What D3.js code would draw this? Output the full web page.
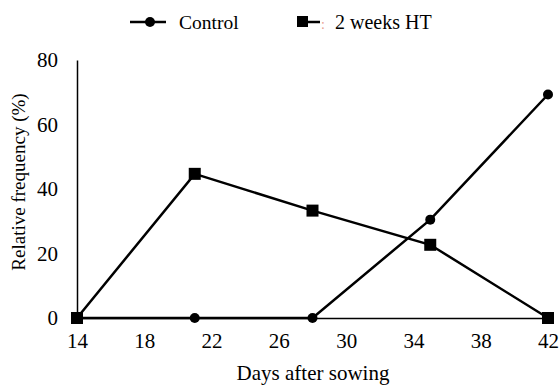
<!DOCTYPE html>
<html>
  <script src="https://d3js.org/d3.v7.js"></script>
  <body style="margin:0">
    <svg id="myPlot" width="560" height="385" font-family="Liberation Serif, DejaVu Serif, serif"></svg>
    <script>
      // Data
      const days = [14, 21, 28, 35, 42];
      const control = [0, 0, 0, 30.5, 69.3];
      const heat = [0, 44.7, 33.3, 22.7, 0];
      const xTicks = [14, 18, 22, 26, 30, 34, 38, 42];
      const yTicks = [0, 20, 40, 60, 80];

      const svg = d3.select("#myPlot");
      const font = "Liberation Serif, DejaVu Serif, serif";

      const x = d3.scaleLinear().domain([14, 42]).range([77, 548]);
      const y = d3.scaleLinear().domain([0, 80]).range([318, 60]);

      // Axes
      const xAxis = svg.append("g")
        .attr("transform", "translate(0," + y(0) + ")")
        .call(d3.axisBottom(x).tickValues(xTicks).tickSize(0).tickPadding(15));
      const yAxis = svg.append("g")
        .attr("transform", "translate(" + x(14) + ",0)")
        .call(d3.axisLeft(y).tickValues(yTicks).tickSize(0).tickPadding(19));
      [xAxis, yAxis].forEach(function (a) {
        a.attr("font-family", font).attr("font-size", 21);
        a.select(".domain").attr("stroke", "#000").attr("stroke-width", 1.5);
        a.selectAll("text").attr("fill", "#000");
      });

      // Titles
      svg.append("text")
        .attr("x", 313).attr("y", 380)
        .attr("text-anchor", "middle")
        .attr("font-family", font).attr("font-size", 21)
        .text("Days after sowing");
      svg.append("text")
        .attr("transform", "translate(25,182) rotate(-90)")
        .attr("text-anchor", "middle")
        .attr("font-family", font).attr("font-size", 19)
        .text("Relative frequency (%)");

      const line = d3.line()
        .x(function (d, i) { return x(days[i]); })
        .y(function (d) { return y(d); });

      // Lines
      svg.append("path").datum(heat)
        .attr("d", line).attr("fill", "none")
        .attr("stroke", "#000").attr("stroke-width", 2.5);
      svg.append("path").datum(control)
        .attr("d", line).attr("fill", "none")
        .attr("stroke", "#000").attr("stroke-width", 2.5);

      // Markers
      svg.selectAll(".dot").data(control).enter()
        .append("circle").attr("class", "dot")
        .attr("cx", function (d, i) { return x(days[i]); })
        .attr("cy", function (d) { return y(d); })
        .attr("r", 5).attr("fill", "#000");
      svg.selectAll(".sq").data(heat).enter()
        .append("rect").attr("class", "sq")
        .attr("x", function (d, i) { return x(days[i]) - 6; })
        .attr("y", function (d) { return y(d) - 6; })
        .attr("width", 12).attr("height", 12).attr("fill", "#000");

      // Legend
      const leg = svg.append("g").attr("font-family", font);
      leg.append("line").attr("x1", 130).attr("x2", 166).attr("y1", 22).attr("y2", 22)
        .attr("stroke", "#000").attr("stroke-width", 2.5);
      leg.append("circle").attr("cx", 150).attr("cy", 22).attr("r", 5).attr("fill", "#000");
      leg.append("text").attr("x", 179).attr("y", 29)
        .attr("font-size", 19.5).text("Control");
      leg.append("rect").attr("x", 297).attr("y", 16).attr("width", 11).attr("height", 11).attr("fill", "#000");
      leg.append("line").attr("x1", 306).attr("x2", 320).attr("y1", 22).attr("y2", 22)
        .attr("stroke", "#000").attr("stroke-width", 2.5);
      leg.append("text").attr("x", 321).attr("y", 29)
        .attr("font-size", 14).attr("fill", "#e8a090").text(":");
      leg.append("text").attr("x", 335).attr("y", 29)
        .attr("font-size", 20).text("2 weeks HT");
    </script>
  </body>
</html>
